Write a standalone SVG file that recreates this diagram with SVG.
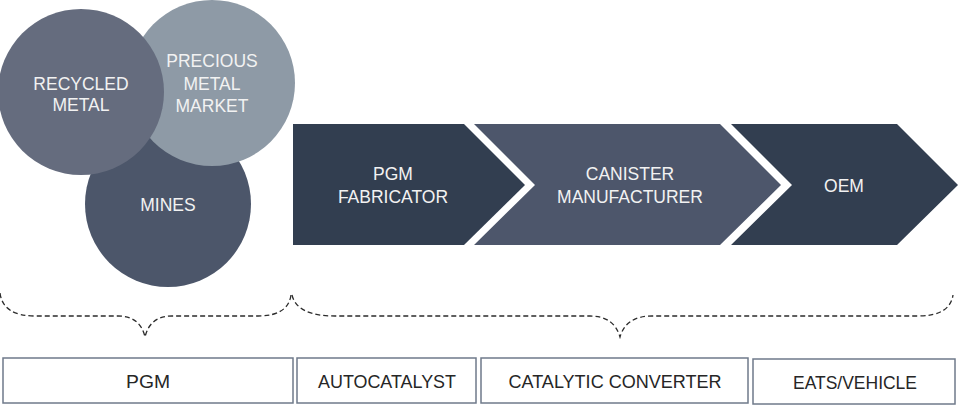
<svg xmlns="http://www.w3.org/2000/svg" width="958" height="405" viewBox="0 0 958 405">
<style>
.lt{font-family:"Liberation Sans",Arial,sans-serif;font-size:17.5px;fill:#F2F2F2;text-anchor:middle}
.dk{font-family:"Liberation Sans",Arial,sans-serif;font-size:18.5px;fill:#262626;text-anchor:middle}
.box{fill:#FFFFFF;stroke:#6F7A8A;stroke-width:1.5}
.brace{fill:none;stroke:#2B2B2B;stroke-width:1.3;stroke-dasharray:5 3}
</style>
<rect width="958" height="405" fill="#FFFFFF"/>
<g id="mines">
<circle cx="168" cy="204" r="83" fill="#4C566A"/>
<text class="lt" x="168" y="211">MINES</text>
</g>
<g id="precious-metal-market">
<circle cx="212" cy="83" r="83" fill="#8E9AA6"/>
<text class="lt" x="212" y="67">PRECIOUS</text>
<text class="lt" x="212" y="90">METAL</text>
<text class="lt" x="212" y="112">MARKET</text>
</g>
<g id="recycled-metal">
<circle cx="81" cy="92" r="83" fill="#656C7E"/>
<text class="lt" x="81" y="90">RECYCLED</text>
<text class="lt" x="81" y="111">METAL</text>
</g>
<g id="pgm-fabricator">
<polygon points="293,124 464,124 525,185 464,245 293,245" fill="#323E50"/>
<text class="lt" x="393" y="180">PGM</text>
<text class="lt" x="393" y="203">FABRICATOR</text>
</g>
<g id="canister-manufacturer">
<polygon points="474,124 720,124 781,185 720,245 474,245 535,185" fill="#4D566B"/>
<text class="lt" x="630" y="180">CANISTER</text>
<text class="lt" x="630" y="203">MANUFACTURER</text>
</g>
<g id="oem">
<polygon points="731,124 897,124 958,185 897,245 731,245 792,185" fill="#323E50"/>
<text class="lt" x="844" y="192">OEM</text>
</g>
<g id="connectors">
<path class="brace" d="M0,293 Q3,316 35,316 L118,316 Q140,316 145,337 Q150,316 172,316 L258,316 Q288,316 291,295"/>
<path class="brace" d="M292,295 Q297,316 335,316 L590,316 Q614,316 620,337 Q626,316 652,316 L918,316 Q950,316 953,295"/>
</g>
<g id="pgm">
<rect class="box" x="3" y="358" width="290" height="45"/>
<text class="dk" x="148" y="388" textLength="44" lengthAdjust="spacingAndGlyphs">PGM</text>
</g>
<g id="autocatalyst">
<rect class="box" x="297" y="358" width="179" height="45"/>
<text class="dk" x="387" y="388" textLength="138" lengthAdjust="spacingAndGlyphs">AUTOCATALYST</text>
</g>
<g id="catalytic-converter">
<rect class="box" x="481" y="358" width="267" height="45"/>
<text class="dk" x="615" y="388" textLength="213" lengthAdjust="spacingAndGlyphs">CATALYTIC CONVERTER</text>
</g>
<g id="eats-vehicle">
<rect class="box" x="753" y="359" width="202" height="45"/>
<text class="dk" x="855" y="389" textLength="124" lengthAdjust="spacingAndGlyphs">EATS/VEHICLE</text>
</g>
</svg>
